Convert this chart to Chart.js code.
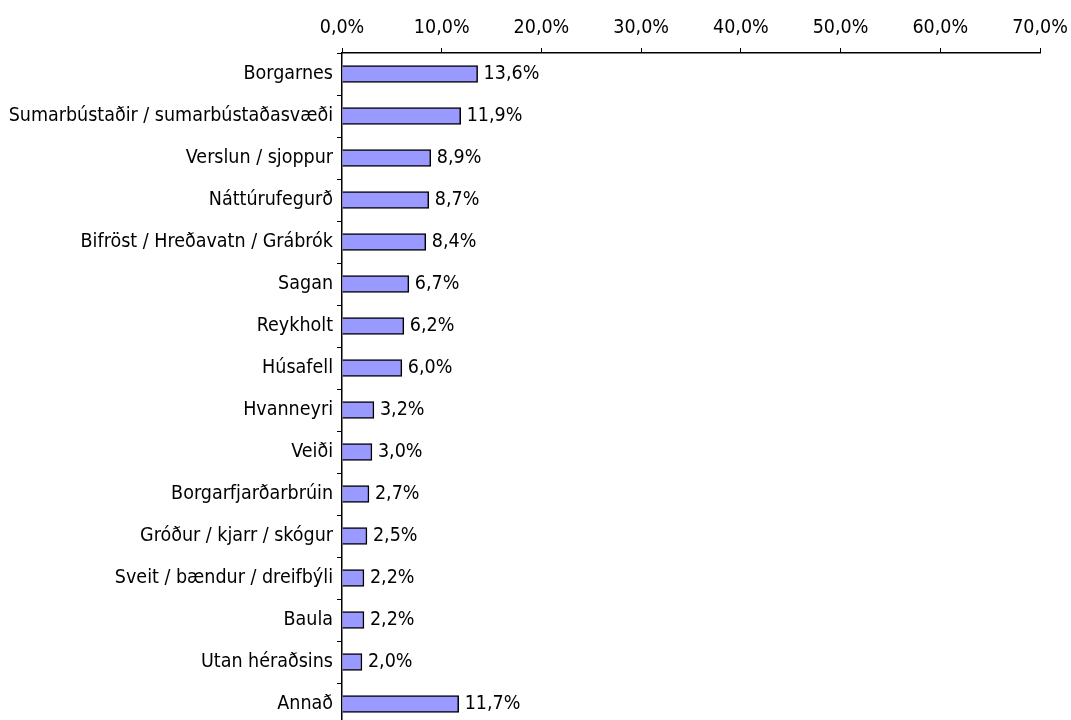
<!DOCTYPE html>
<html>
<head>
<meta charset="utf-8">
<script src="https://cdn.jsdelivr.net/npm/chart.js@4"></script>
<style>
  html, body { margin: 0; padding: 0; background: #fff; overflow: hidden; }
  #wrap { width: 1071px; height: 725px; position: relative; }
</style>
</head>
<body>
<div id="wrap"><canvas id="chart"></canvas></div>
<script>
// Flokkar og hlutföll (%)
const categories = [
  'Borgarnes',
  'Sumarbústaðir / sumarbústaðasvæði',
  'Verslun / sjoppur',
  'Náttúrufegurð',
  'Bifröst / Hreðavatn / Grábrók',
  'Sagan',
  'Reykholt',
  'Húsafell',
  'Hvanneyri',
  'Veiði',
  'Borgarfjarðarbrúin',
  'Gróður / kjarr / skógur',
  'Sveit / bændur / dreifbýli',
  'Baula',
  'Utan héraðsins',
  'Annað'
];
const shares = [13.6, 11.9, 8.9, 8.7, 8.4, 6.7, 6.2, 6.0, 3.2, 3.0, 2.7, 2.5, 2.2, 2.2, 2.0, 11.7];
const xTicks = [0, 10, 20, 30, 40, 50, 60, 70];

const FONT = "'DejaVu Sans Condensed', 'DejaVu Sans', sans-serif";
const FONT_SIZE = 19.5;
const fmtPct = v => Number(v).toFixed(1).replace('.', ',') + '%';

// einföld merki til hægri við súlurnar
const valueLabels = {
  id: 'valueLabels',
  afterDatasetsDraw(chart) {
    const { ctx } = chart;
    const meta = chart.getDatasetMeta(0);
    ctx.save();
    ctx.font = `${FONT_SIZE}px ${FONT}`;
    ctx.fillStyle = '#000';
    ctx.textAlign = 'left';
    ctx.textBaseline = 'middle';
    meta.data.forEach((bar, i) => {
      ctx.fillText(fmtPct(shares[i]), bar.x + 6, bar.y);
    });
    ctx.restore();
  }
};

new Chart(document.getElementById('chart'), {
  type: 'bar',
  data: {
    labels: categories,
    datasets: [{
      data: shares,
      backgroundColor: '#9999FF',
      borderColor: '#000',
      borderWidth: 1.5,
      barThickness: 17
    }]
  },
  plugins: [valueLabels],
  options: {
    indexAxis: 'y',
    responsive: true,
    maintainAspectRatio: false,
    animation: false,
    layout: { padding: { left: 0, right: 31, top: 0, bottom: 0 } },
    plugins: { legend: { display: false }, tooltip: { enabled: false } },
    scales: {
      x: {
        position: 'top',
        min: 0,
        max: 70,
        afterBuildTicks: axis => { axis.ticks = xTicks.map(v => ({ value: v })); },
        afterFit: axis => { axis.height = 53; axis.paddingRight = 0; axis.paddingLeft = 0; },
        ticks: { color: '#000', font: { family: FONT, size: FONT_SIZE }, padding: 8, callback: v => fmtPct(v), maxRotation: 0 },
        grid: { drawOnChartArea: false, drawTicks: true, tickLength: 5, color: '#000' },
        border: { color: '#000', width: 1.5 }
      },
      y: {
        afterFit: axis => { axis.width = 342; axis.paddingTop = 0; axis.paddingBottom = 0; },
        ticks: { color: '#000', font: { family: FONT, size: FONT_SIZE }, padding: 4 },
        grid: { drawOnChartArea: false, drawTicks: true, tickLength: 5, color: '#000', offset: true },
        border: { color: '#000', width: 1.5 }
      }
    }
  }
});
</script>
</body>
</html>
